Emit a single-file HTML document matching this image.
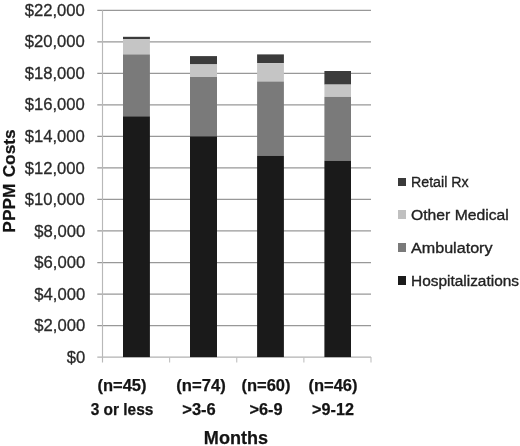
<!DOCTYPE html>
<html><head><meta charset="utf-8"><title>PPPM Costs</title>
<style>
html,body{margin:0;padding:0;background:#fff;}
body{width:520px;height:446px;overflow:hidden;position:relative;font-family:"Liberation Sans",sans-serif;color:#1e1e1e;}
.a{position:absolute;white-space:nowrap;line-height:1;}
.yl{position:absolute;white-space:nowrap;line-height:1;font-size:17.4px;right:434.7px;text-align:right;color:#2a2a2a;-webkit-text-stroke:0.3px #2a2a2a;transform:scaleX(0.957);transform-origin:100% 50%;}
.xl{position:absolute;white-space:nowrap;line-height:1;font-weight:bold;font-size:16px;text-align:center;color:#141414;-webkit-text-stroke:0.25px #141414;transform-origin:50% 50%;}
.lg{position:absolute;white-space:nowrap;line-height:1;font-size:15.5px;color:#222;-webkit-text-stroke:0.35px #222;transform-origin:0 50%;left:411px;}
.sq{position:absolute;left:398.2px;width:8.3px;height:8.8px;}
svg{position:absolute;left:0;top:0;}
#wrap{position:absolute;left:0;top:0;width:520px;height:446px;filter:blur(0.5px);}
</style></head><body>

<div id="wrap">
<svg width="520" height="446" viewBox="0 0 520 446" shape-rendering="auto">
<line x1="97.3" y1="357.10" x2="371.0" y2="357.10" stroke="#b2b2b2" stroke-width="1.25"/>
<line x1="97.3" y1="325.57" x2="371.0" y2="325.57" stroke="#989898" stroke-width="1.25"/>
<line x1="97.3" y1="294.04" x2="371.0" y2="294.04" stroke="#989898" stroke-width="1.25"/>
<line x1="97.3" y1="262.51" x2="371.0" y2="262.51" stroke="#989898" stroke-width="1.25"/>
<line x1="97.3" y1="230.98" x2="371.0" y2="230.98" stroke="#989898" stroke-width="1.25"/>
<line x1="97.3" y1="199.45" x2="371.0" y2="199.45" stroke="#989898" stroke-width="1.25"/>
<line x1="97.3" y1="167.92" x2="371.0" y2="167.92" stroke="#989898" stroke-width="1.25"/>
<line x1="97.3" y1="136.39" x2="371.0" y2="136.39" stroke="#989898" stroke-width="1.25"/>
<line x1="97.3" y1="104.86" x2="371.0" y2="104.86" stroke="#989898" stroke-width="1.25"/>
<line x1="97.3" y1="73.33" x2="371.0" y2="73.33" stroke="#989898" stroke-width="1.25"/>
<line x1="97.3" y1="41.80" x2="371.0" y2="41.80" stroke="#989898" stroke-width="1.25"/>
<line x1="97.3" y1="10.27" x2="371.0" y2="10.27" stroke="#989898" stroke-width="1.25"/>
<line x1="102.5" y1="10.27" x2="102.5" y2="362.6" stroke="#b8b8b8" stroke-width="1.15"/>
<line x1="169.62" y1="357.1" x2="169.62" y2="362.6" stroke="#c0c0c0" stroke-width="1.1"/>
<line x1="236.75" y1="357.1" x2="236.75" y2="362.6" stroke="#c0c0c0" stroke-width="1.1"/>
<line x1="303.88" y1="357.1" x2="303.88" y2="362.6" stroke="#c0c0c0" stroke-width="1.1"/>
<line x1="371.00" y1="357.1" x2="371.00" y2="362.6" stroke="#c0c0c0" stroke-width="1.1"/>
<rect x="123.0" y="36.80" width="26.90" height="2.50" fill="#3b3b3b"/>
<rect x="123.0" y="39.30" width="26.90" height="15.10" fill="#c5c5c5"/>
<rect x="123.0" y="54.40" width="26.90" height="61.90" fill="#7a7a7a"/>
<rect x="123.0" y="116.30" width="26.90" height="240.80" fill="#1a1a1a"/>
<rect x="190.0" y="56.10" width="27.00" height="8.30" fill="#3b3b3b"/>
<rect x="190.0" y="64.40" width="27.00" height="12.60" fill="#c5c5c5"/>
<rect x="190.0" y="77.00" width="27.00" height="59.40" fill="#7a7a7a"/>
<rect x="190.0" y="136.40" width="27.00" height="220.70" fill="#1a1a1a"/>
<rect x="257.1" y="54.40" width="26.80" height="8.70" fill="#3b3b3b"/>
<rect x="257.1" y="63.10" width="26.80" height="18.40" fill="#c5c5c5"/>
<rect x="257.1" y="81.50" width="26.80" height="74.20" fill="#7a7a7a"/>
<rect x="257.1" y="155.70" width="26.80" height="201.40" fill="#1a1a1a"/>
<rect x="324.4" y="71.00" width="26.60" height="13.60" fill="#3b3b3b"/>
<rect x="324.4" y="84.60" width="26.60" height="12.30" fill="#c5c5c5"/>
<rect x="324.4" y="96.90" width="26.60" height="63.80" fill="#7a7a7a"/>
<rect x="324.4" y="160.70" width="26.60" height="196.40" fill="#1a1a1a"/>
</svg>
<div class="yl" style="top:348.70px">$0</div>
<div class="yl" style="top:317.17px">$2,000</div>
<div class="yl" style="top:285.64px">$4,000</div>
<div class="yl" style="top:254.11px">$6,000</div>
<div class="yl" style="top:222.58px">$8,000</div>
<div class="yl" style="top:191.05px">$10,000</div>
<div class="yl" style="top:159.52px">$12,000</div>
<div class="yl" style="top:127.99px">$14,000</div>
<div class="yl" style="top:96.46px">$16,000</div>
<div class="yl" style="top:64.93px">$18,000</div>
<div class="yl" style="top:33.40px">$20,000</div>
<div class="yl" style="top:1.87px">$22,000</div>
<div class="a" id="yt" style="left:9.5px;top:181.0px;font-weight:bold;font-size:17.3px;word-spacing:1.5px;transform:translate(-50%,-50%) rotate(-90deg);color:#141414;-webkit-text-stroke:0.25px #141414;">PPPM Costs</div>
<div class="xl" style="left:81.6px;width:80px;top:378px;transform:scaleX(1.03)">(n=45)</div>
<div class="xl" style="left:81.65px;width:80px;top:401.7px;transform:scaleX(0.966)">3 or less</div>
<div class="xl" style="left:160.9px;width:80px;top:378px;transform:scaleX(1.04)">(n=74)</div>
<div class="xl" style="left:159.25px;width:80px;top:401.7px;transform:scaleX(1.03)">&gt;3-6</div>
<div class="xl" style="left:225.60000000000002px;width:80px;top:378px;transform:scaleX(1.03)">(n=60)</div>
<div class="xl" style="left:225.89999999999998px;width:80px;top:401.7px;transform:scaleX(1.02)">&gt;6-9</div>
<div class="xl" style="left:293.1px;width:80px;top:378px;transform:scaleX(1.03)">(n=46)</div>
<div class="xl" style="left:292.9px;width:80px;top:401.7px;transform:scaleX(1.01)">&gt;9-12</div>
<div class="xl" id="mo" style="left:186.3px;width:100px;top:430.3px;font-size:17.9px;transform:scaleX(1.01)">Months</div>
<div class="sq" style="top:177.70px;background:#3a3a3a"></div>
<div class="lg" style="top:174.30px;transform:scaleX(0.917)">Retail Rx</div>
<div class="sq" style="top:210.40px;background:#c0c0c0"></div>
<div class="lg" style="top:207.00px;transform:scaleX(1.013)">Other Medical</div>
<div class="sq" style="top:243.10px;background:#7a7a7a"></div>
<div class="lg" style="top:239.70px;transform:scaleX(1.04)">Ambulatory</div>
<div class="sq" style="top:276.20px;background:#1b1b1b"></div>
<div class="lg" style="top:272.80px;transform:scaleX(0.995)">Hospitalizations</div>
</div></body></html>
